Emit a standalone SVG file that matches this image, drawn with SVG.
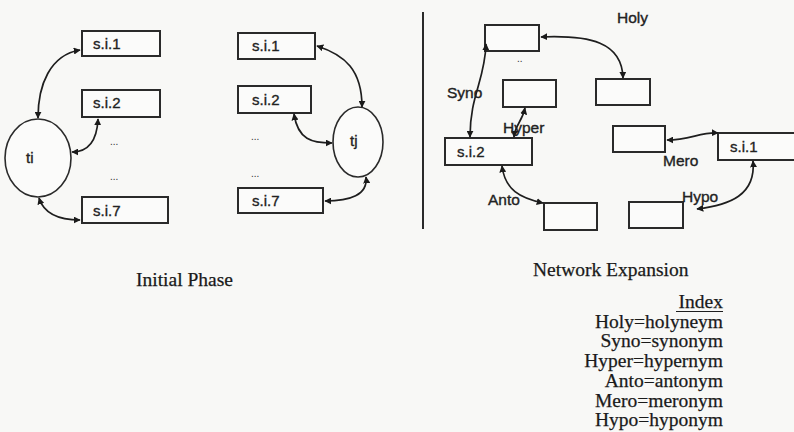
<svg xmlns="http://www.w3.org/2000/svg" width="794" height="432" viewBox="0 0 794 432">
<defs>
<marker id="ah" viewBox="0 0 10 10" refX="9" refY="5" markerWidth="7" markerHeight="7" markerUnits="userSpaceOnUse" orient="auto-start-reverse">
<path d="M0,0 L10,5 L0,10 z" fill="#1a1a1a"/>
</marker>
<style>
.box{fill:#fbfbfa;stroke:#2a2a2a;stroke-width:2}
.ell{fill:#fbfbfa;stroke:#2a2a2a;stroke-width:1.6}
.lbl{font-family:"Liberation Sans",Arial,sans-serif;font-size:15px;fill:#222;stroke:#222;stroke-width:0.35}
.rel{font-family:"Liberation Sans",Arial,sans-serif;font-size:15.5px;fill:#222;stroke:#222;stroke-width:0.35}
.dots{font-family:"Liberation Sans",Arial,sans-serif;font-size:10px;fill:#333}
.ser{font-family:"Liberation Serif","Times New Roman",serif;font-size:19.5px;fill:#1a1a1a;stroke:#1a1a1a;stroke-width:0.25}
.con{fill:none;stroke:#1e1e1e;stroke-width:1.7;marker-start:url(#ah);marker-end:url(#ah)}
</style>
</defs>
<rect width="794" height="432" fill="#f8f8f6"/>

<!-- Initial phase: ti -->
<g id="ti"><ellipse class="ell" cx="38" cy="158" rx="33" ry="39"/><text class="lbl" x="26" y="163">ti</text></g>
<g id="L_si1"><rect class="box" x="82" y="31" width="78" height="25"/><text class="lbl" x="93" y="49">s.i.1</text></g>
<g id="L_si2"><rect class="box" x="82" y="90" width="78" height="27"/><text class="lbl" x="93" y="108">s.i.2</text></g>
<g id="L_si7"><rect class="box" x="82" y="197" width="86" height="26"/><text class="lbl" x="93" y="216">s.i.7</text></g>
<g id="L_dots"><text class="dots" x="110" y="145">...</text><text class="dots" x="110" y="180">...</text></g>

<!-- Initial phase: tj -->
<g id="tj"><ellipse class="ell" cx="358" cy="142" rx="25" ry="35"/><text class="lbl" x="350" y="146">tj</text></g>
<g id="M_si1"><rect class="box" x="238" y="33" width="77" height="26"/><text class="lbl" x="252" y="51">s.i.1</text></g>
<g id="M_si2"><rect class="box" x="238" y="86" width="73" height="27"/><text class="lbl" x="252" y="105">s.i.2</text></g>
<g id="M_si7"><rect class="box" x="238" y="188" width="85" height="25"/><text class="lbl" x="252" y="206">s.i.7</text></g>
<g id="M_dots"><text class="dots" x="251" y="140">...</text><text class="dots" x="251" y="177">...</text></g>

<!-- divider -->
<line x1="423" y1="12" x2="423" y2="229" stroke="#2a2a2a" stroke-width="2"/>

<!-- Network expansion -->
<g id="R_top"><rect class="box" x="485" y="25" width="54" height="26"/><text class="dots" x="517" y="62">..</text></g>
<g id="R_hyper"><rect class="box" x="503" y="80" width="53" height="27"/></g>
<g id="R_holy"><rect class="box" x="596" y="79" width="54" height="26"/></g>
<g id="R_si2"><rect class="box" x="445" y="138" width="87" height="27"/><text class="lbl" x="457" y="157">s.i.2</text></g>
<g id="R_mero"><rect class="box" x="613" y="126" width="52" height="26"/></g>
<g id="R_si1"><rect class="box" x="718" y="133" width="84" height="27"/><text class="lbl" x="730" y="152">s.i.1</text></g>
<g id="R_anto"><rect class="box" x="544" y="203" width="53" height="27"/></g>
<g id="R_hypo"><rect class="box" x="629" y="202" width="54" height="26"/></g>

<g id="connectors">
<path class="con" d="M80,50 C50,55 38,85 38,118"/>
<path class="con" d="M98,119 C97,140 89,152 72,152"/>
<path class="con" d="M39,198 C44,214 60,220 80,220"/>
<path class="con" d="M317,46 C345,55 362,70 362,107"/>
<path class="con" d="M294,114 C298,140 312,143 332,143"/>
<path class="con" d="M366,177 C368,195 350,201 325,201"/>
<path class="con" d="M486,44 C485,80 470,95 470,137"/>
<path class="con" d="M525,108 C522,122 515,125 514,137"/>
<path class="con" d="M541,37 C590,35 622,42 623,78"/>
<path class="con" d="M502,166 C505,190 520,198 543,203"/>
<path class="con" d="M718,133 C700,132 690,140 667,140"/>
<path class="con" d="M753,161 C756,195 730,205 697,209"/>
</g>

<g id="labels">
<text class="rel" x="617" y="23">Holy</text>
<text class="rel" x="447" y="98">Syno</text>
<text class="rel" x="503" y="133">Hyper</text>
<text class="rel" x="488" y="205">Anto</text>
<text class="rel" x="663" y="166">Mero</text>
<text class="rel" x="682" y="202">Hypo</text>
</g>

<text class="ser" x="136" y="286">Initial Phase</text>
<text class="ser" x="533" y="276">Network Expansion</text>

<g id="index" text-anchor="end">
<text class="ser" x="723" y="308">Index</text>
<line x1="676" y1="311.5" x2="723" y2="311.5" stroke="#1e1e1e" stroke-width="1"/>
<text class="ser" x="723" y="328">Holy=holyneym</text>
<text class="ser" x="723" y="347">Syno=synonym</text>
<text class="ser" x="723" y="367">Hyper=hypernym</text>
<text class="ser" x="723" y="387">Anto=antonym</text>
<text class="ser" x="723" y="407">Mero=meronym</text>
<text class="ser" x="723" y="426">Hypo=hyponym</text>
</g>
</svg>
